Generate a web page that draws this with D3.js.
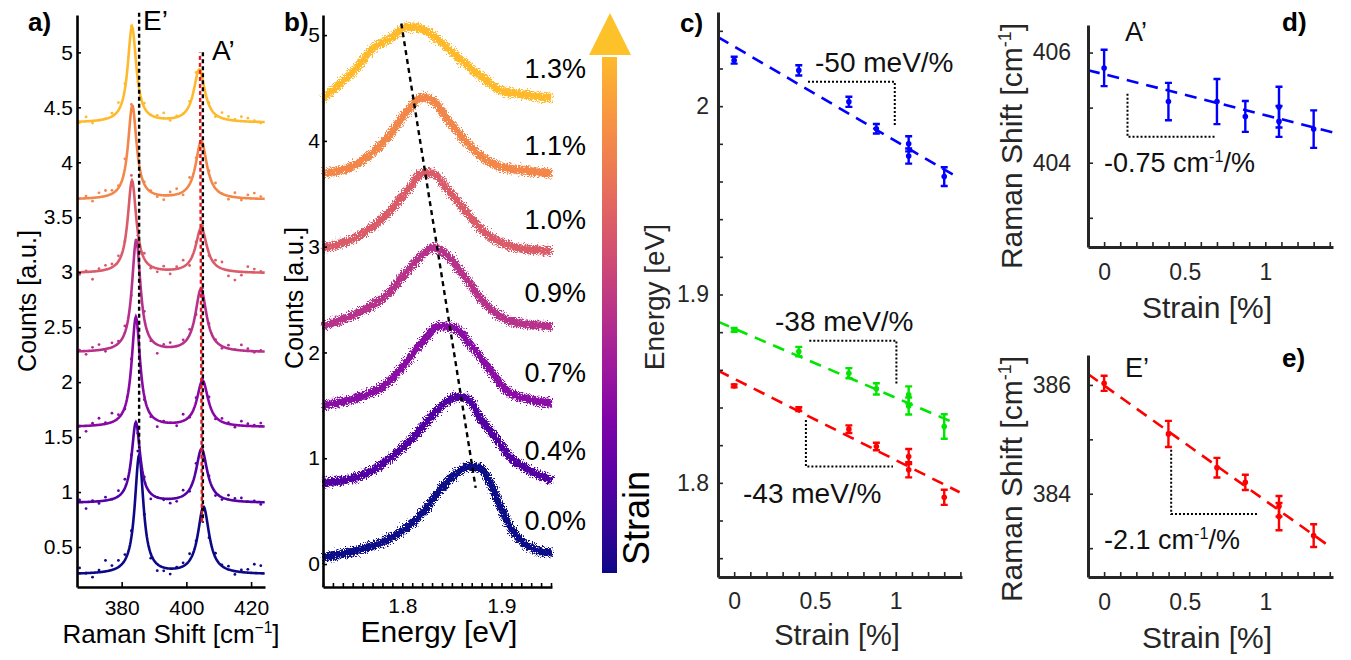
<!DOCTYPE html>
<html lang="en">
<head>
<meta charset="utf-8">
<title>Strain dependent Raman and PL spectra</title>
<script src="https://cdnjs.cloudflare.com/ajax/libs/d3/7.8.5/d3.min.js"></script>
<style>
  body { margin: 0; background: #fff; }
  svg { display: block; font-family: "Liberation Sans", Arial, sans-serif; }
</style>
</head>
<body>
<svg id="fig" width="1351" height="660"></svg>
<script>
// ---------------- data ----------------
const strainLabels = ["0.0%", "0.4%", "0.7%", "0.9%", "1.0%", "1.1%", "1.3%"];

// panel a: Lorentzian fit parameters
const ramanBase = [0.25, 0.90, 1.59, 2.27, 2.99, 3.66, 4.36];
const ramanPosE = [385.4, 384.4, 384.4, 384.5, 383.2, 383.3, 383.2];
const ramanAmpE = [1.08, 0.73, 1.00, 1.02, 0.84, 0.85, 0.87];
const ramanPosA = [405.3, 404.7, 405.0, 404.5, 404.6, 404.6, 404.0];
const ramanAmpA = [0.61, 0.49, 0.42, 0.57, 0.41, 0.53, 0.48];
const widthE = 1.6, widthA = 2.1;
// measured points: offset from the fit, every 2 cm-1 from 367
const ramanRes = [
  [0.05,0.00,-0.04,0.02,0.10,0.04,0.06,0.05,0.06,0.10,0.00,-0.04,-0.06,-0.03,-0.05,0.01,0.03,0.06,0.02,-0.02,-0.04,0.04,0.01,0.03,-0.03,0.02,0.03,0.08,0.07],
  [0.02,-0.06,0.01,-0.02,0.03,0.00,0.05,0.08,0.02,-0.01,0.03,-0.05,0.00,-0.01,-0.04,-0.03,0.05,-0.02,0.06,0.03,0.02,-0.03,-0.02,0.04,0.02,0.03,0.00,0.01,-0.02],
  [0.00,-0.05,0.02,0.06,0.01,0.08,0.03,-0.02,0.05,0.02,-0.03,-0.02,-0.06,0.01,0.00,-0.03,0.06,-0.01,0.04,0.02,0.05,-0.02,0.03,0.01,-0.02,0.04,0.02,0.01,0.03],
  [0.01,-0.03,0.03,0.05,-0.02,0.04,0.02,0.06,-0.03,0.03,0.07,-0.02,-0.08,0.02,0.04,0.00,0.03,0.05,-0.04,0.04,0.02,0.01,-0.02,0.03,0.00,0.05,0.02,-0.01,0.01],
  [-0.02,0.01,-0.07,0.02,0.04,0.03,0.05,0.00,0.06,-0.03,0.05,-0.02,-0.03,0.03,-0.04,0.02,0.06,-0.04,0.02,0.03,-0.02,0.04,0.06,-0.05,-0.08,-0.03,0.05,0.03,0.01],
  [0.00,0.02,-0.03,0.04,0.05,0.03,0.02,0.09,0.04,0.06,0.02,0.01,-0.02,-0.04,0.03,0.05,-0.03,0.06,0.04,-0.02,0.03,0.05,0.00,-0.03,0.04,-0.02,0.03,0.05,0.02],
  [-0.01,0.04,-0.02,0.00,0.00,0.03,0.07,0.05,0.02,-0.02,0.04,0.00,0.02,0.05,-0.02,0.01,0.00,0.03,0.06,0.05,0.02,-0.02,0.05,0.03,0.01,0.04,0.03,0.01,-0.01]
];
const eGuide = [[385.4, 5.36], [385.4, 1.40]];
const aGuideBlack = [[405.1, 5.0], [405.1, 0.72]];
const aGuideRed = [[404.2, 5.0], [404.8, 0.72]];

// panel b: PL spectra [energy eV, counts], bottom to top
const plSpectra = [
  [[1.72,0.06],[1.754,0.13],[1.785,0.23],[1.805,0.35],[1.821,0.49],[1.838,0.70],[1.855,0.86],[1.868,0.92],[1.878,0.91],[1.889,0.76],[1.899,0.54],[1.909,0.35],[1.922,0.20],[1.936,0.13],[1.951,0.10]],
  [[1.72,0.77],[1.754,0.82],[1.785,0.98],[1.805,1.14],[1.821,1.30],[1.838,1.48],[1.855,1.58],[1.865,1.57],[1.878,1.39],[1.896,1.17],[1.909,1.01],[1.922,0.92],[1.951,0.79]],
  [[1.72,1.50],[1.754,1.57],[1.785,1.71],[1.805,1.92],[1.821,2.11],[1.838,2.25],[1.855,2.22],[1.868,2.08],[1.889,1.83],[1.905,1.64],[1.922,1.57],[1.951,1.52]],
  [[1.72,2.25],[1.754,2.37],[1.785,2.55],[1.805,2.77],[1.821,2.93],[1.831,2.99],[1.844,2.93],[1.861,2.74],[1.881,2.49],[1.901,2.33],[1.922,2.27],[1.951,2.25]],
  [[1.72,2.99],[1.754,3.09],[1.785,3.31],[1.805,3.53],[1.821,3.70],[1.831,3.69],[1.844,3.56],[1.861,3.37],[1.881,3.15],[1.901,3.03],[1.922,2.98],[1.951,2.96]],
  [[1.72,3.69],[1.754,3.78],[1.785,4.03],[1.805,4.28],[1.821,4.41],[1.831,4.38],[1.844,4.22],[1.861,4.03],[1.881,3.84],[1.901,3.75],[1.922,3.72],[1.951,3.69]],
  [[1.72,4.40],[1.737,4.54],[1.754,4.69],[1.771,4.88],[1.788,4.97],[1.805,5.08],[1.821,5.05],[1.838,4.94],[1.861,4.75],[1.881,4.60],[1.901,4.47],[1.922,4.44],[1.951,4.40]]
];
const plPeakGuide = [[1.799, 5.11], [1.874, 0.72]];
const plLabelY = [0.32, 0.98, 1.72, 2.48, 3.17, 3.87, 4.59];

// panel c: peak energies vs strain
const strainC = [0, 0.4, 0.71, 0.88, 1.08, 1.08, 1.3];
const blueE = [2.0244, 2.0190, 2.0023, 1.9880, 1.9800, 1.9735, 1.9626];
const blueErr = [0.0018, 0.0027, 0.0027, 0.0025, 0.0040, 0.0040, 0.0050];
const greenE = [1.8812, 1.8697, 1.8582, 1.8499, 1.8467, 1.8408, 1.8299];
const greenErr = [0.0010, 0.0025, 0.0027, 0.0030, 0.0045, 0.0045, 0.0065];
const redE = [1.8515, 1.8391, 1.8285, 1.8193, 1.8140, 1.8069, 1.7923];
const redErr = [0.0008, 0.0010, 0.0020, 0.0020, 0.0040, 0.0040, 0.0040];
const blueFit = [[-0.1, 2.0367], [1.375, 1.9626]];
const greenFit = [[-0.1, 1.8856], [1.344, 1.8325]];
const redFit = [[-0.1, 1.8596], [1.395, 1.7950]];
const blueSlope = [[0.457, 2.0129], [0.994, 2.0129], [0.994, 1.989]];
const greenSlope = [[0.465, 1.8755], [1.004, 1.8755], [1.004, 1.852]];
const redSlope = [[0.444, 1.8334], [0.444, 1.8087], [0.983, 1.8087]];

// panels d, e: Raman shifts vs strain
const strainDE = [0, 0.399, 0.70, 0.876, 1.085, 1.085, 1.30];
const aShift = [405.72, 405.11, 405.11, 404.84, 405.01, 404.75, 404.61];
const aErr = [0.33, 0.34, 0.41, 0.28, 0.37, 0.28, 0.34];
const eShift = [386.03, 385.10, 384.48, 384.21, 383.77, 383.58, 383.23];
const eErr = [0.14, 0.24, 0.18, 0.14, 0.19, 0.25, 0.21];
const aFit = [[-0.1, 405.68], [1.422, 404.55]];
const eFit = [[-0.1, 386.2], [1.414, 383.0]];
const aSlope = [[0.145, 405.25], [0.145, 404.47], [0.69, 404.47]];
const eSlope = [[0.416, 384.81], [0.416, 383.63], [0.958, 383.63]];

// ---------------- helpers ----------------
const FONT = "'Liberation Sans', Arial, sans-serif";
const fig = d3.select("#fig");
const defs = fig.append("defs");
const traceColor = i => d3.interpolatePlasma(i / 6 * 0.85);
const lor = (x, p, a, w) => a / (1 + ((x - p) / w) ** 2);

// grainy texture for the dense PL scatter bands
const grain = defs.append("filter").attr("id", "grain")
  .attr("x", "-5%").attr("y", "-20%").attr("width", "110%").attr("height", "140%");
grain.append("feTurbulence").attr("type", "fractalNoise").attr("baseFrequency", 0.8)
  .attr("numOctaves", 2).attr("seed", 3).attr("result", "noise");
grain.append("feDisplacementMap").attr("in", "SourceGraphic").attr("in2", "noise")
  .attr("scale", 10).attr("xChannelSelector", "R").attr("yChannelSelector", "G");

function styleAxis(sel, color, lw, fs) {
  sel.attr("font-family", FONT).attr("font-size", fs);
  sel.select(".domain").attr("stroke", color).attr("stroke-width", lw);
  sel.selectAll(".tick line").attr("stroke", color).attr("stroke-width", 1.6);
  sel.selectAll(".tick text").attr("fill", color);
}
function label(g, txt, x, y, fs, opts = {}) {
  const t = g.append("text").attr("x", x).attr("y", y)
    .attr("font-size", fs).attr("font-family", FONT)
    .attr("fill", opts.fill || "#000")
    .attr("text-anchor", opts.anchor || "start")
    .attr("font-weight", opts.bold ? "bold" : "normal");
  if (opts.rotate) t.attr("transform", `rotate(-90,${x},${y})`);
  t.text(txt);
  return t;
}
function labelSup(g, pre, sup, post, x, y, fs, opts = {}) {
  const t = label(g, "", x, y, fs, opts);
  t.append("tspan").text(pre);
  t.append("tspan").attr("font-size", fs * 0.6).attr("dy", -fs * 0.38).text(sup);
  t.append("tspan").attr("dy", fs * 0.38).text(post);
  return t;
}
const fmtMajor = (step, fmt) => v => Math.abs(v / step - Math.round(v / step)) < 1e-6 ? fmt(v) : "";

// ---------------- panel a ----------------
const xA = d3.scaleLinear().domain([366.2, 424.3]).range([77, 265]);
const yA = d3.scaleLinear().domain([0.136, 5.34]).range([587, 15]);
const gA = fig.append("g");
const lineA = d3.line().x(d => xA(d[0])).y(d => yA(d[1]));
const ramanGrid = d3.range(366.2, 424.3, 0.2);

ramanBase.forEach((b, i) => {
  const fit = r => b + lor(r, ramanPosE[i], ramanAmpE[i], widthE) + lor(r, ramanPosA[i], ramanAmpA[i], widthA);
  gA.append("path").datum(ramanGrid.map(r => [r, fit(r)]))
    .attr("d", lineA).attr("fill", "none")
    .attr("stroke", traceColor(i)).attr("stroke-width", 2.6);
  gA.append("g").selectAll("circle").data(ramanRes[i]).join("circle")
    .attr("cx", (d, k) => xA(367 + 2 * k))
    .attr("cy", (d, k) => yA(fit(367 + 2 * k) + d))
    .attr("r", 1.4).attr("fill", traceColor(i));
});
gA.append("path").datum(eGuide).attr("d", lineA).attr("stroke", "#000")
  .attr("stroke-width", 2.4).attr("stroke-dasharray", "4,3").attr("fill", "none");
gA.append("path").datum(aGuideBlack).attr("d", lineA).attr("stroke", "#000")
  .attr("stroke-width", 2.4).attr("stroke-dasharray", "4,3").attr("fill", "none");
gA.append("path").datum(aGuideRed).attr("d", lineA).attr("stroke", "#e8141c")
  .attr("stroke-width", 2.4).attr("stroke-dasharray", "4,3").attr("stroke-dashoffset", 3.5).attr("fill", "none");

gA.append("g").attr("transform", "translate(0,587)")
  .call(d3.axisBottom(xA).tickValues([380, 400, 420]).tickSizeInner(-5).tickSizeOuter(0).tickPadding(13))
  .call(s => styleAxis(s, "#000", 2.6, 21));
gA.append("g").attr("transform", "translate(77,0)")
  .call(d3.axisLeft(yA).tickValues(d3.range(0.5, 5.01, 0.5)).tickFormat(d3.format("~g"))
    .tickSizeInner(-4).tickSizeOuter(0).tickPadding(4))
  .call(s => styleAxis(s, "#000", 2.6, 21));

label(gA, "a)", 28, 31, 26, { bold: true });
label(gA, "E\u2019", 143, 30, 28);
label(gA, "A\u2019", 212, 60, 28);
label(gA, "Counts [a.u.]", 36, 301, 25, { anchor: "middle", rotate: true });
labelSup(gA, "Raman Shift [cm", "\u22121", "]", 171, 643, 26, { anchor: "middle" });

// ---------------- panel b ----------------
const xB = d3.scaleLinear().domain([1.72, 1.951]).range([323, 552]);
const yB = d3.scaleLinear().domain([-0.217, 5.19]).range([587, 15]);
const gB = fig.append("g");
const lineB = d3.line().x(d => xB(d[0])).y(d => yB(d[1])).curve(d3.curveMonotoneX);

plSpectra.forEach((spec, i) => {
  const c = traceColor(i);
  const g = gB.append("g").attr("filter", "url(#grain)");
  g.append("path").datum(spec).attr("d", lineB).attr("fill", "none")
    .attr("stroke", c).attr("stroke-width", 8);
  [[-4, "1.5,2"], [4, "1.5,2.4"]].forEach(([dy, dash]) => {
    g.append("path").datum(spec).attr("d", lineB).attr("fill", "none")
      .attr("transform", `translate(0,${dy})`)
      .attr("stroke", c).attr("stroke-width", 1.8).attr("stroke-dasharray", dash);
  });
  label(gB, strainLabels[i], 586, yB(plLabelY[i]), 27, { anchor: "end" });
});
gB.append("path").datum(plPeakGuide).attr("d", d3.line().x(d => xB(d[0])).y(d => yB(d[1])))
  .attr("stroke", "#000").attr("stroke-width", 2.4).attr("stroke-dasharray", "5,4").attr("fill", "none");

gB.append("g").attr("transform", "translate(0,587)")
  .call(d3.axisBottom(xB).tickValues(d3.range(1.72, 1.9505, 0.01)).tickFormat(fmtMajor(0.1, d3.format(".1f")))
    .tickSizeInner(-4).tickSizeOuter(0).tickPadding(11))
  .call(s => styleAxis(s, "#000", 2.6, 21));
gB.append("g").attr("transform", "translate(323,0)")
  .call(d3.axisLeft(yB).tickValues([0, 1, 2, 3, 4, 5]).tickFormat(d3.format("d"))
    .tickSizeInner(-4).tickSizeOuter(0).tickPadding(3))
  .call(s => styleAxis(s, "#000", 2.6, 21));

label(gB, "b)", 284, 31, 26, { bold: true });
label(gB, "Counts [a.u.]", 303, 298, 25, { anchor: "middle", rotate: true });
label(gB, "Energy [eV]", 439, 642, 30, { anchor: "middle" });

// strain colour bar with arrow head
const grad = defs.append("linearGradient").attr("id", "strainGrad")
  .attr("x1", 0).attr("y1", 1).attr("x2", 0).attr("y2", 0);
d3.range(0, 1.0001, 0.1).forEach(t => grad.append("stop")
  .attr("offset", t).attr("stop-color", d3.interpolatePlasma(t * 0.85)));
fig.append("rect").attr("x", 602).attr("y", 57).attr("width", 15).attr("height", 516).attr("fill", "url(#strainGrad)");
fig.append("path").attr("d", "M589,55L631,55L610,13Z").attr("fill", d3.interpolatePlasma(0.87));
label(fig, "Strain", 649, 518, 36, { anchor: "middle", rotate: true });

// ---------------- panel c ----------------
const xC = d3.scaleLinear().domain([-0.1, 1.41]).range([718, 962]);
const yC = d3.scaleLinear().domain([1.75, 2.05]).range([577, 12]);
const gC = fig.append("g");
const lineC = d3.line().x(d => xC(d[0])).y(d => yC(d[1]));
const GREY = "#262626";

function errSeries(g, xs, ys, es, xsc, ysc, color) {
  const pts = xs.map((x, i) => ({ x, y: ys[i], e: es[i] }));
  const s = g.append("g").attr("stroke", color).attr("fill", color);
  s.selectAll(".eb").data(pts).join("path").attr("class", "eb")
    .attr("stroke-width", 2.4).attr("fill", "none")
    .attr("d", d => {
      const px = xsc(d.x), t = ysc(d.y + d.e), b = ysc(d.y - d.e);
      return `M${px},${t}V${b}M${px - 3.5},${t}H${px + 3.5}M${px - 3.5},${b}H${px + 3.5}`;
    });
  s.selectAll("circle").data(pts).join("circle")
    .attr("cx", d => xsc(d.x)).attr("cy", d => ysc(d.y)).attr("r", 2.8).attr("stroke", "none");
}
function fitLine(g, pts, line, color) {
  g.append("path").datum(pts).attr("d", line).attr("fill", "none")
    .attr("stroke", color).attr("stroke-width", 2.6).attr("stroke-dasharray", "12,8");
}
function slopeGuide(g, pts, line) {
  g.append("path").datum(pts).attr("d", line).attr("fill", "none")
    .attr("stroke", "#000").attr("stroke-width", 2).attr("stroke-dasharray", "2,2");
}

fitLine(gC, blueFit, lineC, "#0000ff");
fitLine(gC, greenFit, lineC, "#00e600");
fitLine(gC, redFit, lineC, "#ff0000");
errSeries(gC, strainC, blueE, blueErr, xC, yC, "#0000ff");
errSeries(gC, strainC, greenE, greenErr, xC, yC, "#00e600");
errSeries(gC, strainC, redE, redErr, xC, yC, "#ff0000");
slopeGuide(gC, blueSlope, lineC);
slopeGuide(gC, greenSlope, lineC);
slopeGuide(gC, redSlope, lineC);

gC.append("g").attr("transform", "translate(0,577)")
  .call(d3.axisBottom(xC).tickValues(d3.range(0, 1.401, 0.1)).tickFormat(fmtMajor(0.5, d3.format("~g")))
    .tickSizeInner(-5).tickSizeOuter(0).tickPadding(16))
  .call(s => styleAxis(s, GREY, 3, 23));
gC.append("g").attr("transform", "translate(718,0)")
  .call(d3.axisLeft(yC).tickValues(d3.range(1.76, 2.041, 0.02)).tickFormat(fmtMajor(0.1, d3.format("~g")))
    .tickSizeInner(-5).tickSizeOuter(0).tickPadding(9))
  .call(s => styleAxis(s, GREY, 3, 23));

label(gC, "c)", 680, 32, 26, { bold: true });
label(gC, "-50 meV/%", 815, 72, 28, { fill: "#111" });
label(gC, "-38 meV/%", 775, 331, 28, { fill: "#111" });
label(gC, "-43 meV/%", 743, 503, 28, { fill: "#111" });
label(gC, "Energy [eV]", 664, 297, 28, { anchor: "middle", rotate: true, fill: GREY });
label(gC, "Strain [%]", 837, 645, 29, { anchor: "middle", fill: GREY });

// ---------------- panels d, e ----------------
const xDE = d3.scaleLinear().domain([-0.1, 1.42]).range([1088, 1333]);
const yD = d3.scaleLinear().domain([402.47, 406.5]).range([247, 25]);
const yE = d3.scaleLinear().domain([382.47, 386.55]).range([577, 355]);

function shiftPanel(ysc, top, bottom, ticks, xs, ys, es, fit, slope, color, tag, mode, note, noteY) {
  const g = fig.append("g");
  const line = d3.line().x(d => xDE(d[0])).y(d => ysc(d[1]));
  fitLine(g, fit, line, color);
  errSeries(g, xs, ys, es, xDE, ysc, color);
  slopeGuide(g, slope, line);
  g.append("g").attr("transform", `translate(0,${bottom})`)
    .call(d3.axisBottom(xDE).tickValues(d3.range(0, 1.401, 0.1)).tickFormat(fmtMajor(0.5, d3.format("~g")))
      .tickSizeInner(-5).tickSizeOuter(0).tickPadding(17))
    .call(s => styleAxis(s, GREY, 3, 23));
  g.append("g").attr("transform", "translate(1088,0)")
    .call(d3.axisLeft(ysc).tickValues(ticks).tickFormat(fmtMajor(2, d3.format("d")))
      .tickSizeInner(-5).tickSizeOuter(0).tickPadding(17))
    .call(s => styleAxis(s, GREY, 3, 23));
  label(g, tag, 1282, top + 6, 26, { bold: true });
  label(g, mode, 1125, top + 16, 27, { fill: "#111" });
  labelSup(g, note, "-1", "/%", 1104, noteY, 27, { fill: "#111" });
  labelSup(g, "Raman Shift [cm", "-1", "]", 1022, (top + bottom) / 2 + 10, 30, { anchor: "middle", rotate: true, fill: GREY });
  label(g, "Strain [%]", 1207, bottom + 71, 30, { anchor: "middle", fill: GREY });
}
shiftPanel(yD, 25, 247, [403, 404, 405, 406], strainDE, aShift, aErr, aFit, aSlope, "#0000ff", "d)", "A\u2019", "-0.75 cm", 172);
shiftPanel(yE, 361, 577, [383, 384, 385, 386], strainDE, eShift, eErr, eFit, eSlope, "#ff0000", "e)", "E\u2019", "-2.1 cm", 549);
</script>
</body>
</html>
